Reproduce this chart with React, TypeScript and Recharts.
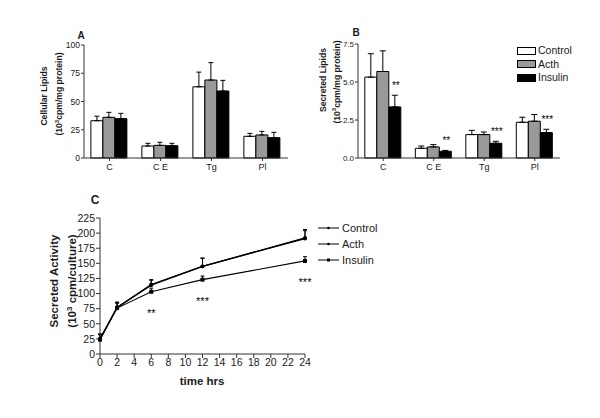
import React from 'react';
import { BarChart, Bar, XAxis, YAxis, ErrorBar, LabelList, Legend, LineChart, Line } from 'recharts';

const FONT = 'Arial, "Liberation Sans", Helvetica, sans-serif';
const INK = '#1a1a1a';
const AXIS = '#333333';

// ---------- Data ----------
const lipidClasses = ['C', 'C E', 'Tg', 'Pl'];
const seriesNames = ['Control', 'Acth', 'Insulin'];
const barFills = ['#ffffff', '#999999', '#000000'];

const cellularControl = [33, 10.6, 63, 19.2];
const cellularControlErr = [4, 2.4, 13, 2.6];
const cellularActh = [36, 11.2, 69, 20.4];
const cellularActhErr = [4.4, 2.7, 15.4, 3.2];
const cellularInsulin = [34.8, 10.9, 59.3, 18];
const cellularInsulinErr = [4.7, 2.1, 9.4, 4.7];
const cellularTicks = [0, 25, 50, 75, 100];

const secretedControl = [5.32, 0.64, 1.54, 2.35];
const secretedControlErr = [1.54, 0.15, 0.28, 0.33];
const secretedActh = [5.69, 0.73, 1.54, 2.42];
const secretedActhErr = [1.36, 0.15, 0.17, 0.44];
const secretedInsulin = [3.36, 0.44, 0.97, 1.67];
const secretedInsulinErr = [0.77, 0.06, 0.13, 0.22];
const secretedSig = ['**', '**', '***', '***'];
const secretedTicks = [0, 2.5, 5, 7.5];

const timeHrs = [0, 2, 6, 12, 24];
const activityControl = [24, 77, 115, 145, 192];
const activityControlErr = [9, 9, 8, 14, 14];
const activityActh = [25, 77, 114, 145, 191];
const activityActhErr = [8, 8, 8, 13, 13];
const activityInsulin = [24, 76, 103, 123, 154];
const activityInsulinErr = [8, 8, 6, 6, 7];
const activitySig = ['', '', '**', '***', '***'];
const timeTicks = [0, 2, 4, 6, 8, 10, 12, 14, 16, 18, 20, 22, 24];
const activityTicks = [0, 25, 50, 75, 100, 125, 150, 175, 200, 225];

const cellularData = lipidClasses.map((cls, i) => ({
  cls,
  control: cellularControl[i],
  controlErr: [0, cellularControlErr[i]],
  acth: cellularActh[i],
  acthErr: [0, cellularActhErr[i]],
  insulin: cellularInsulin[i],
  insulinErr: [0, cellularInsulinErr[i]],
}));

const secretedData = lipidClasses.map((cls, i) => ({
  cls,
  control: secretedControl[i],
  controlErr: [0, secretedControlErr[i]],
  acth: secretedActh[i],
  acthErr: [0, secretedActhErr[i]],
  insulin: secretedInsulin[i],
  insulinErr: [0, secretedInsulinErr[i]],
  sig: secretedSig[i],
}));

const activityData = timeHrs.map((t, i) => ({
  t,
  control: activityControl[i],
  controlErr: [0, activityControlErr[i]],
  acth: activityActh[i],
  acthErr: [0, activityActhErr[i]],
  insulin: activityInsulin[i],
  insulinErr: [0, activityInsulinErr[i]],
  sig: activitySig[i],
}));

// ---------- Helpers ----------
const RotTitle = ({ x, cy, size, children }: any) => (
  <text
    transform={`translate(${x},${cy}) rotate(-90)`}
    textAnchor="middle"
    fontFamily={FONT}
    fontWeight="bold"
    fontSize={size}
    fill={INK}
  >
    {children}
  </text>
);

const TitleA = () => (
  <g>
    <text x={81} y={39} textAnchor="middle" fontFamily={FONT} fontWeight="bold" fontSize={10} fill={INK}>A</text>
    <RotTitle x={47} cy={96} size={8.6}>Cellular Lipids</RotTitle>
    <RotTitle x={62} cy={94} size={8.6}>
      (10<tspan dy={-3.5} fontSize={6}>3</tspan>
      <tspan dy={3.5}>cpm/mg protein)</tspan>
    </RotTitle>
  </g>
);

const TitleB = () => (
  <g>
    <text x={66} y={36} textAnchor="middle" fontFamily={FONT} fontWeight="bold" fontSize={10} fill={INK}>B</text>
    <RotTitle x={35.5} cy={80} size={8.6}>Secreted Lipids</RotTitle>
    <RotTitle x={49.5} cy={82} size={8.6}>
      (10<tspan dy={-3.5} fontSize={6}>3</tspan>
      <tspan dy={3.5}>cpm/mg protein)</tspan>
    </RotTitle>
  </g>
);

const TitleC = () => (
  <g>
    <text x={95} y={24} textAnchor="middle" fontFamily={FONT} fontWeight="bold" fontSize={12} fill={INK}>C</text>
    <RotTitle x={58} cy={101} size={11.5}>Secreted Activity</RotTitle>
    <RotTitle x={76} cy={101} size={11.5}>
      (10<tspan dy={-4.5} fontSize={8}>3</tspan>
      <tspan dy={4.5}> cpm/culture)</tspan>
    </RotTitle>
  </g>
);

const TimeTitle = () => (
  <text x={202} y={205} textAnchor="middle" fontFamily={FONT} fontWeight="bold" fontSize={11.5} fill={INK}>
    time hrs
  </text>
);

const BarStar = (props: any) => {
  const vb = props.viewBox || props;
  const { index, value } = props;
  if (!value) return null;
  const x = vb.x;
  const y = vb.y;
  const w = vb.width;
  const h = Math.abs(vb.height);
  const v = secretedInsulin[index];
  const e = secretedInsulinErr[index];
  const ppu = h / v;
  const errTop = y - e * ppu;
  return (
    <text
      x={x + w / 2 + 1}
      y={errTop - 6}
      textAnchor="middle"
      fontFamily={FONT}
      fontSize={10}
      fill="#000"
      opacity={0.99}
    >
      {value}
    </text>
  );
};

const LineStar = (props: any) => {
  const { x, y, value } = props;
  if (!value) return null;
  return (
    <text
      x={x}
      y={y + 25}
      textAnchor="middle"
      fontFamily={FONT}
      fontSize={11}
      fill="#000"
      opacity={0.99}
    >
      {value}
    </text>
  );
};

const BarLegend = () => (
  <div style={{ fontFamily: FONT, fontSize: 10.5, color: INK, lineHeight: '13.5px' }}>
    {seriesNames.map((n, i) => (
      <div key={n} style={{ display: 'flex', alignItems: 'center', height: 13.5 }}>
        <span
          style={{
            display: 'inline-block',
            width: 17,
            height: 6,
            background: barFills[i],
            border: '1px solid #000',
            marginRight: 2,
          }}
        />
        <span>{n}</span>
      </div>
    ))}
  </div>
);

const LineLegend = () => (
  <div style={{ fontFamily: FONT, fontSize: 11, color: INK }}>
    {seriesNames.map((n, i) => (
      <div key={n} style={{ display: 'flex', alignItems: 'center', height: 16 }}>
        <svg width={21} height={8} style={{ marginRight: 3 }}>
          <line x1={0} y1={4} x2={21} y2={4} stroke="#000" strokeWidth={1} />
          {i === 2 ? (
            <rect x={9} y={2.5} width={3} height={3} fill="#000" />
          ) : (
            <circle cx={10.5} cy={4} r={1.3} fill="#000" />
          )}
        </svg>
        <span>{n}</span>
      </div>
    ))}
  </div>
);

const SquareDot = (props: any) => {
  const { cx, cy, index } = props;
  if (cx == null || cy == null) return <g key={`sq-${index}`} />;
  return <rect key={`sq-${index}`} x={cx - 2} y={cy - 2} width={4} height={4} fill="#000" />;
};

const barTickA = { fill: INK, fontSize: 8.5, fontFamily: FONT };
const barTickB = { fill: INK, fontSize: 8, fontFamily: FONT };
const catTick = { fill: INK, fontSize: 9, fontFamily: FONT };
const lineTick = { fill: INK, fontSize: 10.5, fontFamily: FONT };

export default function App() {
  return (
    <div
      style={{
        position: 'absolute',
        left: 0,
        top: 0,
        width: 600,
        height: 418,
        background: '#fff',
        overflow: 'hidden',
      }}
    >
      {/* Panel A */}
      <div style={{ position: 'absolute', left: 0, top: 0 }}>
        <BarChart
          width={300}
          height={180}
          data={cellularData}
          margin={{ top: 45, right: 12, bottom: 0, left: 0 }}
          barCategoryGap="13.5%"
          barGap={0}
        >
          <XAxis
            dataKey="cls"
            height={22}
            tick={catTick}
            tickSize={3}
            tickMargin={3}
            interval={0}
            stroke={AXIS}
          />
          <YAxis
            width={84}
            domain={[0, 100]}
            ticks={cellularTicks}
            interval={0}
            tick={barTickA}
            tickSize={3}
            tickMargin={1}
            stroke={AXIS}
            label={<TitleA />}
          />
          {(['control', 'acth', 'insulin'] as const).map((k, i) => (
            <Bar
              key={k}
              dataKey={k}
              name={seriesNames[i]}
              fill={barFills[i]}
              stroke="#000"
              strokeWidth={1}
              isAnimationActive={false}
            >
              <ErrorBar dataKey={`${k}Err`} width={2.5} stroke="#000" strokeWidth={1} isAnimationActive={false} />
            </Bar>
          ))}
        </BarChart>
      </div>

      {/* Panel B */}
      <div style={{ position: 'absolute', left: 290, top: 0 }}>
        <BarChart
          width={310}
          height={180}
          data={secretedData}
          margin={{ top: 44, right: 40, bottom: 0, left: 0 }}
          barCategoryGap="13.5%"
          barGap={0}
        >
          <XAxis
            dataKey="cls"
            height={22}
            tick={catTick}
            tickSize={3}
            tickMargin={3}
            interval={0}
            stroke={AXIS}
          />
          <YAxis
            width={68}
            domain={[0, 7.5]}
            ticks={secretedTicks}
            interval={0}
            tickFormatter={(v: number) => v.toFixed(1)}
            tick={barTickB}
            tickSize={3}
            tickMargin={1}
            stroke={AXIS}
            label={<TitleB />}
          />
          {(['control', 'acth', 'insulin'] as const).map((k, i) => (
            <Bar
              key={k}
              dataKey={k}
              name={seriesNames[i]}
              fill={barFills[i]}
              stroke="#000"
              strokeWidth={1}
              isAnimationActive={false}
            >
              <ErrorBar dataKey={`${k}Err`} width={3} stroke="#000" strokeWidth={1} isAnimationActive={false} />
              {k === 'insulin' ? <LabelList dataKey="sig" content={<BarStar />} /> : null}
            </Bar>
          ))}
          <Legend
            layout="vertical"
            align="center"
            verticalAlign="middle"
            content={<BarLegend />}
            wrapperStyle={{ position: 'absolute', left: 227, top: 44, width: 80, height: 42 }}
          />
        </BarChart>
      </div>

      {/* Panel C */}
      <div style={{ position: 'absolute', left: 0, top: 180 }}>
        <LineChart
          width={420}
          height={238}
          data={activityData}
          margin={{ top: 38, right: 115, bottom: 0, left: 0 }}
        >
          <XAxis
            dataKey="t"
            type="number"
            domain={[0, 24]}
            ticks={timeTicks}
            interval={0}
            height={64}
            tick={lineTick}
            tickSize={4}
            tickMargin={1}
            stroke={AXIS}
            label={<TimeTitle />}
          />
          <YAxis
            width={100}
            domain={[0, 225]}
            ticks={activityTicks}
            interval={0}
            tick={lineTick}
            tickSize={4}
            tickMargin={1}
            stroke={AXIS}
            label={<TitleC />}
          />
          <Line
            dataKey="control"
            name="Control"
            stroke="#000"
            strokeWidth={1.3}
            dot={{ r: 1.3, fill: '#000', stroke: '#000' }}
            isAnimationActive={false}
          >
            <ErrorBar dataKey="controlErr" width={2} stroke="#000" strokeWidth={1} isAnimationActive={false} />
          </Line>
          <Line
            dataKey="acth"
            name="Acth"
            stroke="#000"
            strokeWidth={1.3}
            dot={{ r: 1.3, fill: '#000', stroke: '#000' }}
            isAnimationActive={false}
          >
            <ErrorBar dataKey="acthErr" width={2} stroke="#000" strokeWidth={1} isAnimationActive={false} />
          </Line>
          <Line
            dataKey="insulin"
            name="Insulin"
            stroke="#000"
            strokeWidth={1.1}
            dot={<SquareDot />}
            isAnimationActive={false}
          >
            <ErrorBar dataKey="insulinErr" width={2} stroke="#000" strokeWidth={1} isAnimationActive={false} />
            <LabelList dataKey="sig" content={<LineStar />} />
          </Line>
          <Legend
            layout="vertical"
            align="center"
            verticalAlign="middle"
            content={<LineLegend />}
            wrapperStyle={{ position: 'absolute', left: 318, top: 40, width: 100, height: 48 }}
          />
        </LineChart>
      </div>
    </div>
  );
}
